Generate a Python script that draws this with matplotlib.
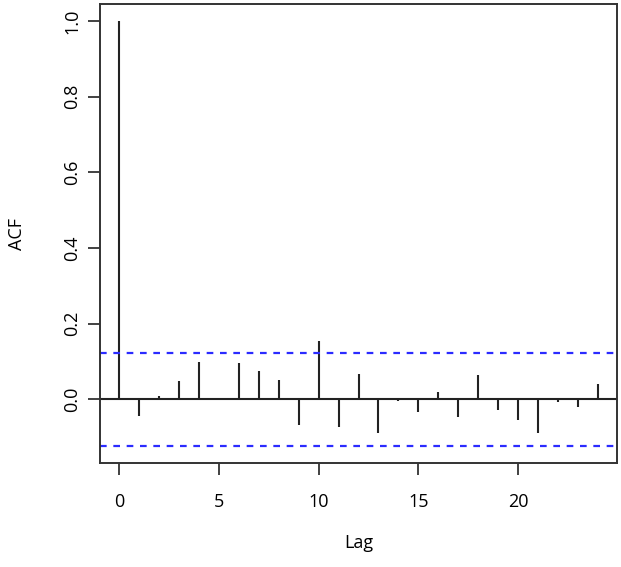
import numpy as np
import matplotlib
matplotlib.use("Agg")
import matplotlib.pyplot as plt

# ACF values, lags 0..24
lags = np.arange(25)
acf = [1.000, -0.045, 0.008, 0.050, 0.100, 0.000, 0.096, 0.076, 0.052,
       -0.067, 0.155, -0.072, 0.068, -0.089, -0.003, -0.034, 0.020, -0.046,
       0.064, -0.029, -0.054, -0.090, -0.007, -0.019, 0.040]
conf = 0.123
xticks = [0, 5, 10, 15, 20]
yticks = [0.0, 0.2, 0.4, 0.6, 0.8, 1.0]

plt.rcParams["font.family"] = ["Open Sans", "DejaVu Sans"]

fig = plt.figure(figsize=(6.21, 5.67), dpi=100)
ax = fig.add_axes([100 / 621, 104 / 567, 517 / 621, 459 / 567])

ax.vlines(lags, 0, acf, color="#222222", lw=1.5)
ax.axhline(0, color="#222222", lw=1.5)
for c in (conf, -conf):
    ax.axhline(c, color="#2b2bff", lw=1.6, ls=(0, (3, 3)))

ax.set_xlim(-0.96, 24.96)
ax.set_ylim(-0.168, 1.045)
ax.set_xticks(xticks)
ax.set_yticks(yticks)
ax.set_yticklabels([f"{v:.1f}" for v in yticks], rotation=90, va="center")
ax.tick_params(length=8.5, width=1.3, color="#333333", labelsize=13)
ax.tick_params(axis="x", pad=13)
ax.tick_params(axis="y", pad=5)
for s in ax.spines.values():
    s.set_linewidth(1.4)
    s.set_color("#333333")

ax.set_xlabel("Lag", fontsize=13, labelpad=17)
ax.set_ylabel("ACF", fontsize=13, labelpad=27)

fig.savefig("out.png", dpi=100)
